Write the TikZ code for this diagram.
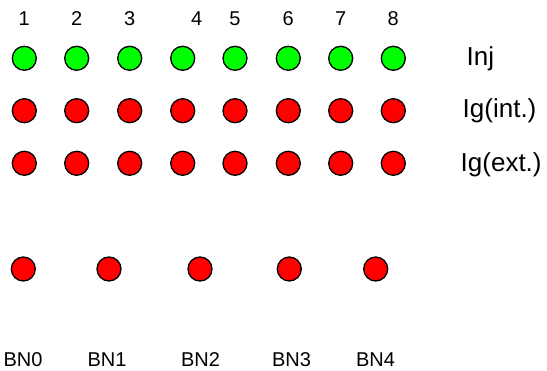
\documentclass[tikz,border=0pt]{standalone}
\usepackage{fontspec}
\setmainfont{Liberation Sans}
\definecolor{ongreen}{RGB}{0,255,0}
\definecolor{onred}{RGB}{255,0,0}
\begin{document}
\begin{tikzpicture}[x=1pt,y=-1pt,
  dot/.style={circle,draw=black,line width=1.3pt,minimum size=24pt,inner sep=0pt},
  gdot/.style={dot,fill=ongreen},
  rdot/.style={dot,fill=onred},
  num/.style={anchor=base,inner sep=0pt,font=\fontsize{20}{22}\selectfont},
  rowlab/.style={anchor=base west,inner sep=0pt,font=\fontsize{26}{28}\selectfont}]
\useasboundingbox (0,0) rectangle (547,371);
% column numbers
\node[num] (n1) at (24.3,26) {1};
\node[num] (n2) at (76.7,26) {2};
\node[num] (n3) at (129.7,26) {3};
\node[num] (n4) at (196.7,26) {4};
\node[num] (n5) at (235,26) {5};
\node[num] (n6) at (288.3,26) {6};
\node[num] (n7) at (340.7,26) {7};
\node[num] (n8) at (393.3,26) {8};
% rows
\foreach \i/\x in {1/24.3,2/76.7,3/129.7,4/182.7,5/235,6/288.3,7/340.7,8/393.3}{
  \node[gdot] (g\i) at (\x,58.3) {};
  \node[rdot] (ri\i) at (\x,110.7) {};
  \node[rdot] (re\i) at (\x,163.3) {};
}
% bottom row
\node[rdot] (b0) at (23.3,269) {};
\node[rdot] (b1) at (109,269) {};
\node[rdot] (b2) at (200,269) {};
\node[rdot] (b3) at (289.3,269) {};
\node[rdot] (b4) at (375.7,269) {};
% bottom labels
\node[num] (l0) at (23,366.7) {BN0};
\node[num] (l1) at (107,366.7) {BN1};
\node[num] (l2) at (200.5,366.7) {BN2};
\node[num] (l3) at (291.5,366.7) {BN3};
\node[num] (l4) at (375.5,366.7) {BN4};
% row labels
\node[rowlab] (inj) at (466.5,65.7) {Inj};
\node[rowlab] (igi) at (462.5,118) {Ig(int.)};
\node[rowlab] (ige) at (460.5,171.7) {Ig(ext.)};
\end{tikzpicture}
\end{document}
